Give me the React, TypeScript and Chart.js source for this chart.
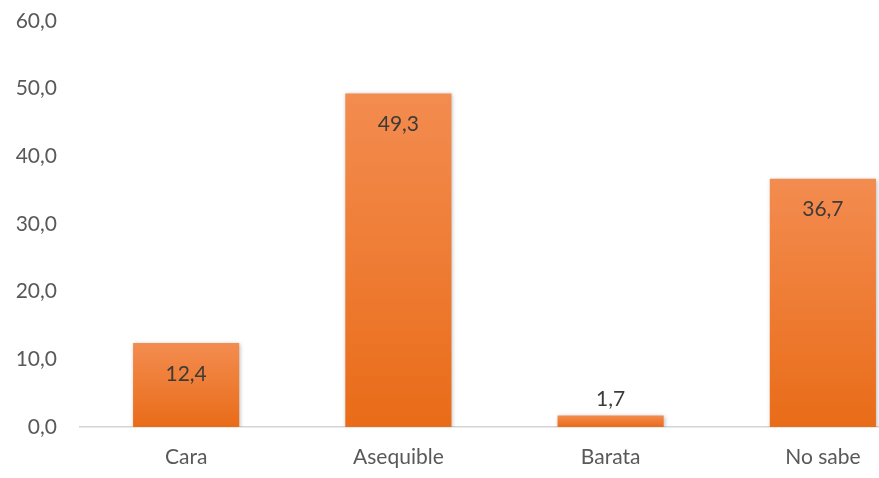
import React, { useEffect, useRef } from "react";
import { Chart, registerables } from "chart.js";

Chart.register(...registerables);

const categories = ["Cara", "Asequible", "Barata", "No sabe"];
const values = [12.4, 49.3, 1.7, 36.7];
const yTicks = [0, 10, 20, 30, 40, 50, 60];

const FONT = "Lato, 'Open Sans', sans-serif";

const fmt = (v: number) => v.toFixed(1).replace(".", ",");

const shadowPlugin = {
  id: "barShadow",
  beforeDatasetsDraw(chart: any) {
    const ctx = chart.ctx;
    ctx.save();
    ctx.shadowColor = "rgba(0,0,0,0.28)";
    ctx.shadowBlur = 4;
    ctx.shadowOffsetX = 1;
    ctx.shadowOffsetY = 1;
  },
  afterDatasetsDraw(chart: any) {
    chart.ctx.restore();
    const ctx = chart.ctx;
    const meta = chart.getDatasetMeta(0);
    ctx.save();
    ctx.font = `21px ${FONT}`;
    ctx.fillStyle = "#3d3a38";
    ctx.textAlign = "center";
    ctx.textBaseline = "middle";
    meta.data.forEach((bar: any, i: number) => {
      const v = values[i];
      const y = v > 5 ? bar.y + 31 : bar.y - 16;
      ctx.fillText(fmt(v), bar.x, y);
    });
    ctx.restore();
  },
};

export default function App() {
  const ref = useRef<HTMLCanvasElement>(null);
  useEffect(() => {
    if (!ref.current) return;
    const chart = new Chart(ref.current, {
      type: "bar",
      data: {
        labels: categories,
        datasets: [
          {
            data: values,
            backgroundColor: (c: any) => {
              const ch = c.chart;
              const ca = ch.chartArea;
              if (!ca || c.dataIndex === undefined) return "#F07A30";
              const ys = ch.scales.y;
              const top = ys.getPixelForValue(values[c.dataIndex]);
              const bot = ys.getPixelForValue(0);
              const g = ch.ctx.createLinearGradient(0, top, 0, bot);
              g.addColorStop(0, "#F38C50");
              g.addColorStop(1, "#E96C18");
              return g;
            },
            borderWidth: 0,
            barPercentage: 0.5,
            categoryPercentage: 1,
          },
        ],
      },
      options: {
        animation: false,
        responsive: false,
        maintainAspectRatio: false,
        layout: { padding: { top: 21, right: 0, left: 0, bottom: 0 } },
        plugins: {
          legend: { display: false },
          tooltip: { enabled: false },
        },
        scales: {
          x: {
            grid: { display: false, drawTicks: false },
            border: { display: true, color: "#d4d4d4", width: 1.5 },
            ticks: {
              color: "#595959",
              font: { family: FONT, size: 21 },
              padding: 18,
            },
            afterFit: (s: any) => {
              s.height = 51;
              s.paddingLeft = 0;
              s.paddingRight = 0;
            },
          },
          y: {
            min: 0,
            max: 60,
            afterBuildTicks: (s: any) => {
              s.ticks = yTicks.map((v) => ({ value: v }));
            },
            grid: { display: false, drawTicks: false },
            border: { display: false },
            ticks: {
              color: "#595959",
              font: { family: FONT, size: 21 },
              padding: 23,
              callback: (v: any) => fmt(Number(v)),
            },
            afterFit: (s: any) => {
              s.width = 80;
              s.paddingTop = 0;
              s.paddingBottom = 0;
            },
          },
        },
      },
      plugins: [shadowPlugin],
    });
    return () => chart.destroy();
  }, []);

  return (
    <div
      style={{
        position: "absolute",
        left: 0,
        top: 0,
        width: 879,
        height: 478,
        overflow: "hidden",
        background: "#fff",
      }}
    >
      <canvas ref={ref} width={929} height={478} style={{ display: "block", width: 929, height: 478 }} />
    </div>
  );
}
